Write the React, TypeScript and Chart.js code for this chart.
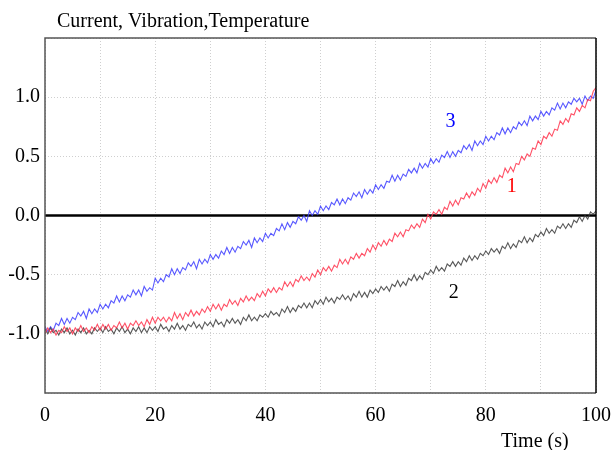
import React, { useEffect, useRef } from "react";
import { Chart, registerables } from "chart.js";

Chart.register(...registerables);

const TITLE = "Current, Vibration,Temperature";
const X_TITLE = "Time (s)";

const TIME = [
  0, 0.5, 1, 1.5, 2, 2.5, 3, 3.5, 4, 4.5, 5, 5.5, 6, 6.5, 7, 7.5, 8, 8.5, 9, 9.5,
  10, 10.5, 11, 11.5, 12, 12.5, 13, 13.5, 14, 14.5, 15, 15.5, 16, 16.5, 17, 17.5, 18, 18.5, 19, 19.5,
  20, 20.5, 21, 21.5, 22, 22.5, 23, 23.5, 24, 24.5, 25, 25.5, 26, 26.5, 27, 27.5, 28, 28.5, 29, 29.5,
  30, 30.5, 31, 31.5, 32, 32.5, 33, 33.5, 34, 34.5, 35, 35.5, 36, 36.5, 37, 37.5, 38, 38.5, 39, 39.5,
  40, 40.5, 41, 41.5, 42, 42.5, 43, 43.5, 44, 44.5, 45, 45.5, 46, 46.5, 47, 47.5, 48, 48.5, 49, 49.5,
  50, 50.5, 51, 51.5, 52, 52.5, 53, 53.5, 54, 54.5, 55, 55.5, 56, 56.5, 57, 57.5, 58, 58.5, 59, 59.5,
  60, 60.5, 61, 61.5, 62, 62.5, 63, 63.5, 64, 64.5, 65, 65.5, 66, 66.5, 67, 67.5, 68, 68.5, 69, 69.5,
  70, 70.5, 71, 71.5, 72, 72.5, 73, 73.5, 74, 74.5, 75, 75.5, 76, 76.5, 77, 77.5, 78, 78.5, 79, 79.5,
  80, 80.5, 81, 81.5, 82, 82.5, 83, 83.5, 84, 84.5, 85, 85.5, 86, 86.5, 87, 87.5, 88, 88.5, 89, 89.5,
  90, 90.5, 91, 91.5, 92, 92.5, 93, 93.5, 94, 94.5, 95, 95.5, 96, 96.5, 97, 97.5, 98, 98.5, 99, 99.5,
  100,
];

// Series 1 (red)
const CURRENT = [
  -1.00, -0.95, -0.99, -0.96, -1.01, -0.97, -0.99, -0.94, -0.98, -0.95,
  -1.00, -0.95, -0.98, -0.93, -0.98, -0.95, -0.99, -0.94, -0.97, -0.92,
  -0.97, -0.92, -0.96, -0.92, -0.97, -0.93, -0.95, -0.90, -0.95, -0.91,
  -0.96, -0.91, -0.93, -0.89, -0.93, -0.90, -0.94, -0.88, -0.92, -0.86,
  -0.91, -0.86, -0.89, -0.86, -0.90, -0.86, -0.89, -0.82, -0.87, -0.83,
  -0.88, -0.82, -0.85, -0.80, -0.85, -0.81, -0.84, -0.79, -0.82, -0.77,
  -0.81, -0.75, -0.79, -0.75, -0.80, -0.75, -0.77, -0.71, -0.75, -0.72,
  -0.76, -0.70, -0.73, -0.68, -0.72, -0.69, -0.72, -0.66, -0.69, -0.64,
  -0.68, -0.62, -0.65, -0.61, -0.65, -0.61, -0.63, -0.56, -0.60, -0.56,
  -0.60, -0.54, -0.56, -0.51, -0.55, -0.52, -0.55, -0.49, -0.52, -0.46,
  -0.50, -0.44, -0.47, -0.43, -0.47, -0.42, -0.44, -0.37, -0.41, -0.37,
  -0.41, -0.35, -0.37, -0.32, -0.36, -0.32, -0.34, -0.28, -0.31, -0.25,
  -0.29, -0.23, -0.26, -0.21, -0.25, -0.20, -0.22, -0.15, -0.18, -0.14,
  -0.18, -0.12, -0.13, -0.08, -0.11, -0.07, -0.10, -0.03, -0.06, 0.01,
  -0.03, 0.03, 0.01, 0.05, 0.01, 0.07, 0.05, 0.12, 0.08, 0.13,
  0.09, 0.15, 0.14, 0.19, 0.15, 0.20, 0.17, 0.23, 0.20, 0.27,
  0.23, 0.30, 0.27, 0.32, 0.28, 0.34, 0.32, 0.40, 0.36, 0.41,
  0.37, 0.44, 0.43, 0.50, 0.47, 0.52, 0.50, 0.57, 0.56, 0.63,
  0.60, 0.67, 0.65, 0.70, 0.67, 0.73, 0.72, 0.80, 0.77, 0.82,
  0.79, 0.86, 0.85, 0.91, 0.88, 0.93, 0.91, 0.98, 0.97, 1.05,
  1.08,
];

// Series 2 (black)
const VIBRATION = [
  -0.96, -1.00, -0.95, -0.99, -0.97, -1.01, -0.96, -0.99, -0.95, -1.00,
  -0.97, -1.01, -0.96, -0.99, -0.95, -1.00, -0.97, -1.00, -0.95, -0.98,
  -0.95, -0.99, -0.94, -0.98, -0.96, -1.00, -0.95, -0.98, -0.94, -0.99,
  -0.96, -1.00, -0.95, -0.98, -0.94, -0.99, -0.95, -0.99, -0.94, -0.97,
  -0.94, -0.98, -0.92, -0.96, -0.94, -0.98, -0.93, -0.96, -0.91, -0.96,
  -0.93, -0.97, -0.92, -0.94, -0.90, -0.95, -0.92, -0.96, -0.90, -0.93,
  -0.90, -0.94, -0.88, -0.92, -0.90, -0.94, -0.88, -0.91, -0.87, -0.91,
  -0.88, -0.92, -0.86, -0.89, -0.84, -0.89, -0.86, -0.89, -0.84, -0.86,
  -0.83, -0.86, -0.81, -0.84, -0.82, -0.85, -0.79, -0.82, -0.77, -0.82,
  -0.78, -0.81, -0.76, -0.78, -0.74, -0.78, -0.74, -0.78, -0.72, -0.75,
  -0.71, -0.75, -0.69, -0.73, -0.70, -0.74, -0.69, -0.71, -0.67, -0.71,
  -0.68, -0.72, -0.66, -0.69, -0.64, -0.69, -0.65, -0.69, -0.63, -0.66,
  -0.62, -0.65, -0.60, -0.63, -0.60, -0.64, -0.58, -0.60, -0.55, -0.60,
  -0.56, -0.59, -0.53, -0.55, -0.50, -0.55, -0.51, -0.54, -0.48, -0.50,
  -0.46, -0.49, -0.43, -0.47, -0.44, -0.47, -0.41, -0.43, -0.39, -0.43,
  -0.39, -0.42, -0.36, -0.39, -0.34, -0.38, -0.34, -0.37, -0.32, -0.34,
  -0.30, -0.33, -0.28, -0.31, -0.28, -0.32, -0.26, -0.28, -0.23, -0.28,
  -0.24, -0.27, -0.21, -0.23, -0.18, -0.23, -0.19, -0.22, -0.16, -0.18,
  -0.14, -0.17, -0.11, -0.15, -0.12, -0.15, -0.09, -0.11, -0.07, -0.11,
  -0.07, -0.10, -0.04, -0.06, -0.01, -0.05, 0.00, -0.03, 0.03, 0.01,
  0.04,
];

// Series 3 (blue)
const TEMPERATURE = [
  -0.94, -0.98, -0.94, -0.97, -0.91, -0.93, -0.87, -0.92, -0.87, -0.91,
  -0.86, -0.88, -0.82, -0.85, -0.81, -0.87, -0.79, -0.83, -0.79, -0.82,
  -0.75, -0.79, -0.75, -0.78, -0.72, -0.74, -0.68, -0.73, -0.68, -0.72,
  -0.67, -0.69, -0.63, -0.67, -0.63, -0.68, -0.60, -0.64, -0.61, -0.63,
  -0.53, -0.57, -0.53, -0.56, -0.50, -0.52, -0.45, -0.50, -0.45, -0.49,
  -0.44, -0.46, -0.40, -0.43, -0.39, -0.45, -0.37, -0.41, -0.37, -0.40,
  -0.33, -0.37, -0.33, -0.36, -0.30, -0.33, -0.27, -0.32, -0.27, -0.31,
  -0.26, -0.28, -0.22, -0.25, -0.21, -0.27, -0.19, -0.23, -0.19, -0.22,
  -0.15, -0.19, -0.15, -0.17, -0.11, -0.13, -0.07, -0.12, -0.06, -0.10,
  -0.05, -0.07, -0.01, -0.04, 0.00, -0.05, 0.04, 0.00, 0.04, 0.01,
  0.08, 0.04, 0.08, 0.05, 0.11, 0.09, 0.14, 0.09, 0.14, 0.10,
  0.15, 0.13, 0.19, 0.16, 0.20, 0.15, 0.22, 0.18, 0.22, 0.19,
  0.26, 0.22, 0.26, 0.23, 0.29, 0.28, 0.34, 0.29, 0.34, 0.30,
  0.35, 0.33, 0.39, 0.36, 0.40, 0.36, 0.44, 0.40, 0.44, 0.41,
  0.48, 0.44, 0.48, 0.45, 0.51, 0.49, 0.54, 0.49, 0.54, 0.50,
  0.55, 0.53, 0.59, 0.56, 0.60, 0.55, 0.63, 0.59, 0.63, 0.60,
  0.67, 0.63, 0.67, 0.64, 0.70, 0.68, 0.74, 0.69, 0.74, 0.70,
  0.75, 0.73, 0.79, 0.76, 0.80, 0.76, 0.84, 0.80, 0.84, 0.81,
  0.88, 0.84, 0.88, 0.85, 0.91, 0.89, 0.95, 0.90, 0.95, 0.91,
  0.96, 0.94, 0.99, 0.96, 0.99, 0.94, 1.01, 0.97, 1.01, 0.99,
  1.06,
];

const SERIES_NAMES = ["1", "2", "3"];
const SERIES_COLORS = ["rgba(255,50,75,0.85)", "rgba(60,60,60,0.85)", "rgba(60,60,255,0.85)"];
const LABEL_COLORS = ["#ff0000", "#000000", "#0000ff"];
const LABEL_X = [84.7, 74.2, 73.6];
const LABEL_Y = [0.24, -0.65, 0.79];

const Y_TICK_LABELS = [-1.0, -0.5, 0.0, 0.5, 1.0];
const X_TICK_LABELS = [0, 20, 40, 60, 80, 100];

const FONT = "'Liberation Serif', 'Times New Roman', serif";

const decorPlugin = {
  id: "decor",
  beforeDatasetsDraw(chart: any) {
    const { ctx, chartArea, scales } = chart;
    const y0 = scales.y.getPixelForValue(0);
    ctx.save();
    ctx.strokeStyle = "#000";
    ctx.lineWidth = 2.5;
    ctx.beginPath();
    ctx.moveTo(chartArea.left, y0);
    ctx.lineTo(chartArea.right, y0);
    ctx.stroke();
    ctx.restore();
  },
  afterDraw(chart: any) {
    const { ctx, chartArea, scales } = chart;
    const { left, right, top, bottom } = chartArea;
    ctx.save();
    // frame
    ctx.lineWidth = 1.5;
    ctx.strokeStyle = "#555";
    ctx.beginPath();
    ctx.moveTo(right, top);
    ctx.lineTo(left, top);
    ctx.lineTo(left, bottom);
    ctx.lineTo(right, bottom);
    ctx.stroke();
    ctx.strokeStyle = "#000";
    ctx.beginPath();
    ctx.moveTo(right, top);
    ctx.lineTo(right, bottom);
    ctx.stroke();
    // texts
    ctx.font = `20px ${FONT}`;
    ctx.fillStyle = "#000";
    ctx.textAlign = "left";
    ctx.textBaseline = "alphabetic";
    ctx.fillText(TITLE, left + 12, 27);
    ctx.fillText(X_TITLE, right - 95, 447);
    ctx.textAlign = "center";
    ctx.textBaseline = "middle";
    SERIES_NAMES.forEach((n, i) => {
      ctx.fillStyle = LABEL_COLORS[i];
      ctx.fillText(n, scales.x.getPixelForValue(LABEL_X[i]), scales.y.getPixelForValue(LABEL_Y[i]));
    });
    ctx.restore();
  },
};

export default function App() {
  const ref = useRef<HTMLCanvasElement | null>(null);
  useEffect(() => {
    if (!ref.current) return;
    const seriesValues = [CURRENT, VIBRATION, TEMPERATURE];
    const chart = new Chart(ref.current, {
      type: "line",
      data: {
        datasets: seriesValues.map((vals, i) => ({
          label: SERIES_NAMES[i],
          data: vals.map((v, k) => ({ x: TIME[k], y: v })),
          borderColor: SERIES_COLORS[i],
          borderWidth: 1.1,
          pointRadius: 0,
          tension: 0,
          fill: false,
        })),
      },
      options: {
        animation: false,
        responsive: true,
        maintainAspectRatio: false,
        layout: { padding: { top: 38, right: 17, bottom: 0, left: 0 } },
        plugins: { legend: { display: false }, tooltip: { enabled: false }, title: { display: false } },
        scales: {
          x: {
            type: "linear",
            min: 0,
            max: 100,
            afterFit: (s: any) => { s.height = 57; s.paddingLeft = 0; s.paddingRight = 0; },
            border: { display: false, dash: [1, 2] },
            grid: { color: "#cfcfcf", lineWidth: 1, drawTicks: false },
            ticks: {
              stepSize: 10,
              autoSkip: false,
              maxRotation: 0,
              padding: 11,
              color: "#000",
              font: { family: FONT, size: 20 },
              callback: (v: any) => (X_TICK_LABELS.includes(Number(v)) ? String(v) : ""),
            },
          },
          y: {
            min: -1.5,
            max: 1.5,
            afterFit: (s: any) => { s.width = 45; s.paddingTop = 0; s.paddingBottom = 0; },
            border: { display: false, dash: [1, 2] },
            grid: { color: "#cfcfcf", lineWidth: 1, drawTicks: false },
            ticks: {
              stepSize: 0.5,
              autoSkip: false,
              padding: 5,
              color: "#000",
              font: { family: FONT, size: 20 },
              callback: (v: any) => {
                const n = Number(v);
                return Y_TICK_LABELS.some((t) => Math.abs(t - n) < 1e-9) ? n.toFixed(1) : "";
              },
            },
          },
        },
      },
      plugins: [decorPlugin],
    });
    return () => chart.destroy();
  }, []);
  return (
    <div style={{ position: "absolute", left: 0, top: 0, width: 613, height: 450, background: "#fff" }}>
      <canvas ref={ref} />
    </div>
  );
}
